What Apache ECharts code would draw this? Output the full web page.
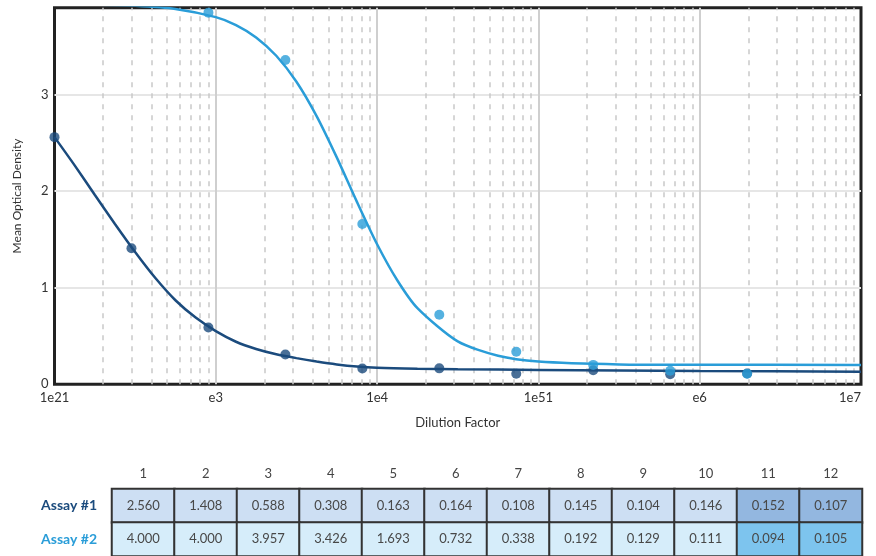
<!DOCTYPE html>
<html>
<head>
<meta charset="utf-8">
<script src="https://cdn.jsdelivr.net/npm/echarts@6/dist/echarts.min.js"></script>
<style>
html,body{margin:0;padding:0;background:#fff;}
#chart{width:876px;height:556px;}
</style>
</head>
<body>
<div id="chart"></div>
<script>
// ---- Data ----
const dilutions = [100, 300, 900, 2700, 8100, 24300, 72900, 218700, 656100, 1968300];
const assay1Points = [2.560, 1.408, 0.588, 0.308, 0.163, 0.164, 0.108, 0.145, 0.104, 0.110];
const assay2Points = [4.000, 4.000, 3.850, 3.360, 1.660, 0.720, 0.336, 0.200, 0.140, 0.109];

// fitted curves
const curve1X = [100, 133, 178, 237, 316, 422, 562, 750, 1000, 1334, 1778, 2371, 3162, 4217, 5623, 7499, 10000, 17783, 31623, 100000, 316228, 1000000, 10000000];
const curve1Y = [2.56, 2.27, 1.96, 1.66, 1.37, 1.10, 0.87, 0.69, 0.55, 0.44, 0.365, 0.31, 0.27, 0.235, 0.205, 0.183, 0.170, 0.160, 0.155, 0.148, 0.143, 0.138, 0.130];
const curve2X = [100, 178, 316, 562, 1000, 1334, 1778, 2371, 3162, 4217, 5623, 7499, 10000, 13335, 17783, 31623, 56234, 100000, 316228, 1000000, 10000000];
const curve2Y = [3.937, 3.933, 3.920, 3.888, 3.803, 3.721, 3.593, 3.403, 3.134, 2.778, 2.350, 1.889, 1.450, 1.077, 0.788, 0.443, 0.294, 0.235, 0.205, 0.201, 0.200];

const xTickLabels = ['1e21', 'e3', '1e4', '1e51', 'e6', '1e7'];
const yTicks = [0, 1, 2, 3];
const minorGridX = [200,300,400,500,600,700,800,900, 2000,3000,4000,5000,6000,7000,8000,9000,
  20000,30000,40000,50000,60000,70000,80000,90000, 200000,300000,400000,500000,600000,700000,800000,900000,
  2000000,3000000,4000000,5000000,6000000,7000000,8000000,9000000];

const tableColumns = ['1','2','3','4','5','6','7','8','9','10','11','12'];
const tableRows = ['Assay #1', 'Assay #2'];
const tableAssay1 = [2.560, 1.408, 0.588, 0.308, 0.163, 0.164, 0.108, 0.145, 0.104, 0.146, 0.152, 0.107];
const tableAssay2 = [4.000, 4.000, 3.957, 3.426, 1.693, 0.732, 0.338, 0.192, 0.129, 0.111, 0.094, 0.105];
const controlColumnCount = 2;

// ---- Styles ----
const DARK = '#1b4b7d';
const LIGHT = '#2a9dd8';
const FONT = 'Lato, "Open Sans", sans-serif';

const pts = (xs, ys) => xs.map((x, i) => [x, ys[i]]);

const tableData = [];
[tableAssay1, tableAssay2].forEach((row, r) => {
  row.forEach((v, c) => {
    const isControl = c >= row.length - controlColumnCount;
    const color = r === 0 ? (isControl ? '#93b7e0' : '#cddff3') : (isControl ? '#7dc4ee' : '#d6edfa');
    tableData.push({ value: [c, r, v], itemStyle: { color } });
  });
});

const chart = echarts.init(document.getElementById('chart'), null, { renderer: 'canvas' });
chart.setOption({
  backgroundColor: '#ffffff',
  animation: false,
  textStyle: { fontFamily: FONT },
  grid: [
    { left: 54.5, right: 15, top: 7.8, bottom: 171.8, show: true, borderColor: '#222', borderWidth: 3, backgroundColor: '#fff', z: 0 },
    { left: 112, width: 750, top: 489, height: 67 }
  ],
  xAxis: [
    {
      type: 'log', logBase: 10, min: 100, max: 10000000, gridIndex: 0,
      name: 'Dilution Factor', nameLocation: 'middle', nameGap: 32,
      nameTextStyle: { fontSize: 13, color: '#333', fontFamily: FONT },
      axisLine: { show: false }, axisTick: { show: false },
      axisLabel: {
        margin: 7, fontSize: 13, color: '#333', fontFamily: FONT,
        alignMaxLabel: 'right',
        formatter: (v) => xTickLabels[Math.round(Math.log10(v)) - 2]
      },
      splitLine: { show: true, showMinLine: false, showMaxLine: false, lineStyle: { color: '#cfcfcf', width: 2 } }
    },
    {
      type: 'category', gridIndex: 1, data: tableColumns, position: 'top',
      axisLine: { show: false }, axisTick: { show: false }, splitLine: { show: false },
      axisLabel: { margin: 9, fontSize: 13, color: '#444', fontFamily: FONT }
    }
  ],
  yAxis: [
    {
      type: 'value', min: 0, max: 3.9, interval: 1, gridIndex: 0,
      name: 'Mean Optical Density', nameLocation: 'middle', nameGap: 31,
      nameTextStyle: { fontSize: 12, color: '#333', fontFamily: FONT },
      axisLine: { show: false }, axisTick: { show: false },
      axisLabel: { margin: 6, fontSize: 13, color: '#333', fontFamily: FONT, showMaxLabel: false,
        formatter: (v) => (yTicks.indexOf(v) >= 0 ? String(v) : '') },
      splitLine: { show: true, showMinLine: false, showMaxLine: false, lineStyle: { color: '#e6e6e6', width: 2 } }
    },
    {
      type: 'category', gridIndex: 1, data: tableRows, inverse: true,
      axisLine: { show: false }, axisTick: { show: false }, splitLine: { show: false },
      axisLabel: {
        margin: 15, fontFamily: FONT,
        formatter: (v, i) => (i === 0 ? '{a|' + v + '}' : '{b|' + v + '}'),
        rich: {
          a: { color: DARK, fontWeight: 'bold', fontSize: 14, fontFamily: FONT },
          b: { color: LIGHT, fontWeight: 'bold', fontSize: 14, fontFamily: FONT }
        }
      }
    }
  ],
  series: [
    {
      type: 'line', xAxisIndex: 0, yAxisIndex: 0, data: [], z: 1, silent: true,
      markLine: {
        silent: true, symbol: 'none', animation: false, z: 1,
        label: { show: false },
        emphasis: { disabled: true },
        lineStyle: { type: [5, 6], color: '#c9c9c9', width: 1.5 },
        data: minorGridX.map((x) => ({ xAxis: x }))
      }
    },
    {
      type: 'line', name: 'Assay #1 fit', data: pts(curve1X, curve1Y), smooth: 0.25, showSymbol: false,
      lineStyle: { color: DARK, width: 2.5 }, clip: true, z: 3
    },
    {
      type: 'line', name: 'Assay #2 fit', data: pts(curve2X, curve2Y), smooth: 0.25, showSymbol: false,
      lineStyle: { color: LIGHT, width: 2.5 }, clip: true, z: 3
    },
    {
      type: 'scatter', name: 'Assay #1', data: pts(dilutions, assay1Points), symbolSize: 10,
      itemStyle: { color: DARK }, clip: true, z: 4
    },
    {
      type: 'scatter', name: 'Assay #2', data: pts(dilutions, assay2Points), symbolSize: 10,
      itemStyle: { color: LIGHT }, clip: true, z: 5
    },
    {
      type: 'heatmap', xAxisIndex: 1, yAxisIndex: 1, data: tableData,
      itemStyle: { borderColor: '#333', borderWidth: 2 },
      label: { show: true, fontSize: 13, color: '#484848', fontFamily: FONT,
        formatter: (p) => p.value[2].toFixed(3) },
      emphasis: { disabled: true }
    }
  ]
});
</script>
</body>
</html>
